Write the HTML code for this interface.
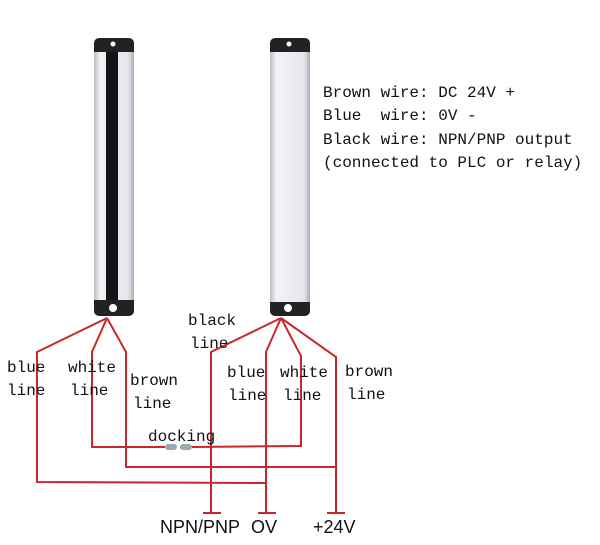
<!DOCTYPE html>
<html><head><style>
body{margin:0;background:#fff;width:600px;height:545px;overflow:hidden}
svg{display:block}
text{font-family:"Liberation Mono",monospace;font-size:16px;fill:#111;white-space:pre}
.s{font-family:"Liberation Sans",sans-serif;font-size:18px}
</style></head><body>
<svg width="600" height="545" viewBox="0 0 600 545">
<defs>
<linearGradient id="g1" x1="0" x2="1"><stop offset="0" stop-color="#b8bcc4"/><stop offset=".15" stop-color="#f2f3f6"/><stop offset=".85" stop-color="#e4e6ec"/><stop offset="1" stop-color="#a8acb4"/></linearGradient>
</defs>
<rect x="94" y="38" width="40" height="278" rx="5" fill="url(#g1)"/>
<path d="M94 52 V44 Q94 38 100 38 H128 Q134 38 134 44 V52 Z" fill="#222"/>
<circle cx="113" cy="44" r="2.5" fill="#fff"/>
<rect x="106" y="52" width="12" height="250" fill="#151515"/>
<path d="M94 300 H134 V310 Q134 316 128 316 H100 Q94 316 94 310 Z" fill="#222"/>
<circle cx="113" cy="308" r="4" fill="#fff"/>
<rect x="270" y="38" width="40" height="278" rx="5" fill="url(#g1)"/>
<path d="M270 52 V44 Q270 38 276 38 H304 Q310 38 310 44 V52 Z" fill="#222"/>
<circle cx="289" cy="44" r="2.5" fill="#fff"/>
<path d="M270 302 H310 V310 Q310 316 304 316 H276 Q270 316 270 310 Z" fill="#222"/>
<circle cx="288" cy="308" r="4" fill="#fff"/>
<g stroke="#c8282a" stroke-width="2" fill="none">
<polyline points="107,318 37,352 37,482 266,483"/>
<polyline points="107,318 92,352 92,447 165,447"/>
<polyline points="192,447 301,446 301,356 281,318"/>
<polyline points="107,318 126,352 126,467 336,467"/>
<polyline points="281,318 211,352 211,513"/>
<polyline points="281,318 266,352 266,513"/>
<polyline points="281,318 336,357 336,513"/>
<line x1="203" y1="513" x2="221" y2="513"/>
<line x1="258" y1="513" x2="276" y2="513"/>
<line x1="327" y1="513" x2="345" y2="513"/>
</g>
<rect x="165" y="444" width="12" height="6" rx="3" fill="#9aa"/>
<rect x="180" y="444" width="12" height="6" rx="3" fill="#9aa"/>
<text x="323" y="97">Brown wire: DC 24V +</text>
<text x="323" y="120">Blue  wire: 0V -</text>
<text x="323" y="144">Black wire: NPN/PNP output</text>
<text x="323" y="167">(connected to PLC or relay)</text>
<text x="7" y="372">blue</text><text x="7" y="395">line</text>
<text x="68" y="372">white</text><text x="70" y="395">line</text>
<text x="130" y="385">brown</text><text x="133" y="408">line</text>
<text x="188" y="325">black</text><text x="190" y="348">line</text>
<text x="227" y="377">blue</text><text x="228" y="400">line</text>
<text x="280" y="377">white</text><text x="283" y="400">line</text>
<text x="345" y="376">brown</text><text x="347" y="399">line</text>
<text x="148" y="441">docking</text>
<text class="s" x="160" y="533">NPN/PNP</text>
<text class="s" x="251" y="533">OV</text>
<text class="s" x="313" y="533">+24V</text>
</svg>
</body></html>
